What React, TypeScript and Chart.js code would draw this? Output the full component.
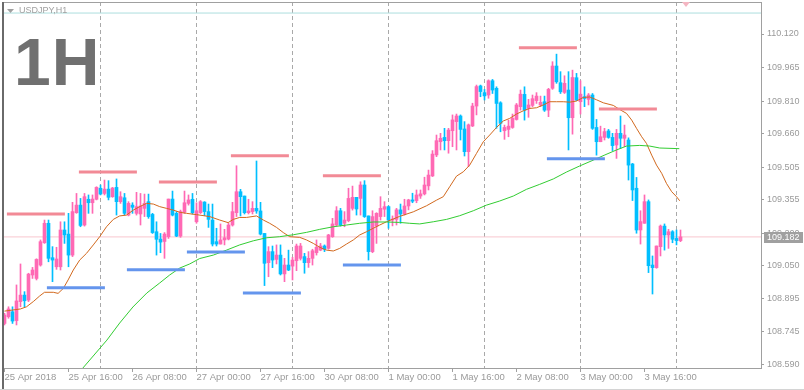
import React, { useEffect, useRef } from 'react';
import { Chart, registerables } from 'chart.js';
Chart.register(...registerables);

// ---- Data (USDJPY, H1) ----
const opens = [108.782,108.813,108.836,108.795,108.883,108.913,108.890,109.006,108.990,109.052,
109.155,109.245,109.086,109.044,109.044,109.214,109.195,109.098,109.294,109.329,
109.237,109.356,109.340,109.356,109.407,109.383,109.403,109.368,109.411,109.345,
109.363,109.283,109.329,109.291,109.288,109.314,109.345,109.286,109.206,109.172,
109.161,109.183,109.357,109.291,109.186,109.296,109.337,109.356,109.252,109.294,
109.343,109.299,109.260,109.160,109.149,109.168,109.172,109.237,109.294,109.391,
109.371,109.294,109.299,109.314,109.302,109.198,109.063,109.114,109.078,109.098,
109.011,109.052,109.047,109.072,109.083,109.091,109.063,109.083,109.109,109.121,
109.140,109.129,109.183,109.237,109.303,109.245,109.257,109.314,109.365,109.360,
109.422,109.279,109.114,109.232,109.276,109.310,109.322,109.260,109.263,109.307,
109.288,109.325,109.353,109.350,109.371,109.381,109.418,109.464,109.561,109.622,
109.642,109.627,109.673,109.715,109.741,109.681,109.576,109.695,109.787,109.880,
109.849,109.838,109.904,109.869,109.802,109.673,109.679,109.688,109.725,109.784,
109.841,109.776,109.790,109.812,109.792,109.807,109.768,109.869,109.972,109.895,
109.850,109.861,109.733,109.918,109.807,109.830,109.818,109.838,109.688,109.622,
109.642,109.672,109.642,109.607,109.661,109.638,109.630,109.519,109.407,109.214,
109.245,109.345,109.052,109.040,109.137,109.232,109.191,109.206,109.175,109.165];

const highs = [108.829,108.859,108.859,108.960,109.057,108.929,109.014,109.041,109.081,109.168,
109.260,109.260,109.137,109.134,109.252,109.252,109.291,109.342,109.383,109.360,
109.383,109.376,109.376,109.414,109.422,109.445,109.442,109.411,109.450,109.391,
109.383,109.345,109.340,109.388,109.383,109.380,109.380,109.291,109.252,109.198,
109.202,109.357,109.394,109.299,109.306,109.394,109.376,109.383,109.340,109.350,
109.345,109.334,109.334,109.222,109.242,109.217,109.245,109.342,109.511,109.402,
109.371,109.356,109.345,109.533,109.342,109.198,109.137,109.140,109.145,109.145,
109.083,109.121,109.088,109.149,109.152,109.106,109.114,109.125,109.168,109.152,
109.145,109.194,109.268,109.322,109.314,109.299,109.407,109.417,109.365,109.437,
109.442,109.279,109.303,109.294,109.368,109.345,109.325,109.279,109.314,109.334,
109.356,109.356,109.384,109.399,109.399,109.458,109.491,109.581,109.653,109.661,
109.684,109.684,109.746,109.750,109.746,109.715,109.704,109.800,109.884,109.884,
109.864,109.908,109.910,109.876,109.807,109.699,109.722,109.750,109.799,109.861,
109.876,109.818,109.838,109.849,109.833,109.833,109.869,109.992,110.027,109.946,
109.927,109.946,109.953,109.938,109.904,109.876,109.845,109.845,109.725,109.694,
109.684,109.679,109.661,109.679,109.741,109.699,109.640,109.522,109.457,109.303,
109.376,109.353,109.094,109.140,109.237,109.242,109.217,109.211,109.214,109.214];

const lows = [108.775,108.806,108.782,108.775,108.859,108.859,108.883,108.990,108.983,109.047,
109.152,109.067,108.975,109.032,109.029,109.152,109.044,109.091,109.291,109.229,
109.232,109.291,109.291,109.353,109.376,109.376,109.353,109.365,109.283,109.337,
109.283,109.279,109.291,109.283,109.237,109.276,109.268,109.198,109.098,109.109,
109.083,109.175,109.279,109.183,109.180,109.291,109.329,109.288,109.245,109.290,
109.280,109.226,109.140,109.140,109.149,109.145,109.168,109.232,109.276,109.279,
109.288,109.288,109.288,109.291,109.191,108.957,108.998,109.040,109.057,109.006,
108.975,109.026,108.983,109.026,109.075,109.014,109.041,109.052,109.098,109.118,
109.114,109.125,109.180,109.232,109.232,109.229,109.252,109.306,109.283,109.283,
109.272,109.075,109.109,109.152,109.260,109.276,109.222,109.233,109.237,109.245,
109.283,109.307,109.340,109.340,109.360,109.376,109.399,109.461,109.553,109.584,
109.584,109.569,109.599,109.584,109.630,109.556,109.507,109.692,109.746,109.830,
109.815,109.823,109.845,109.684,109.668,109.633,109.645,109.684,109.722,109.768,
109.722,109.735,109.784,109.799,109.784,109.762,109.738,109.864,109.892,109.845,
109.845,109.584,109.657,109.812,109.750,109.784,109.792,109.679,109.560,109.622,
109.630,109.638,109.581,109.545,109.591,109.599,109.445,109.350,109.199,109.149,
109.245,109.017,108.918,109.037,109.094,109.121,109.129,109.155,109.145,109.160];

const closes = [108.821,108.849,108.793,108.886,108.913,108.887,109.010,109.029,109.078,109.160,
109.245,109.083,109.075,109.080,109.214,109.191,109.098,109.299,109.329,109.235,
109.368,109.340,109.357,109.411,109.380,109.403,109.365,109.408,109.345,109.368,
109.291,109.337,109.319,109.322,109.325,109.337,109.276,109.202,109.171,109.158,
109.195,109.357,109.283,109.186,109.299,109.340,109.353,109.294,109.303,109.345,
109.299,109.263,109.149,109.149,109.168,109.178,109.237,109.299,109.391,109.368,
109.294,109.302,109.314,109.302,109.195,109.060,109.114,109.075,109.098,109.011,
109.052,109.029,109.075,109.140,109.140,109.063,109.083,109.118,109.134,109.140,
109.125,109.191,109.242,109.303,109.237,109.260,109.360,109.365,109.311,109.422,
109.276,109.114,109.276,109.291,109.314,109.322,109.260,109.263,109.307,109.288,
109.325,109.353,109.347,109.376,109.381,109.422,109.468,109.565,109.627,109.638,
109.627,109.676,109.723,109.741,109.679,109.576,109.700,109.787,109.877,109.854,
109.834,109.904,109.861,109.799,109.707,109.688,109.694,109.730,109.792,109.842,
109.768,109.792,109.821,109.833,109.804,109.768,109.864,109.972,109.899,109.853,
109.892,109.733,109.919,109.815,109.842,109.822,109.838,109.684,109.622,109.645,
109.669,109.642,109.604,109.661,109.638,109.653,109.514,109.399,109.214,109.253,
109.345,109.049,109.040,109.140,109.232,109.191,109.206,109.171,109.165,109.182];

// Fast moving average (orange), sampled at bar positions
const fastMaBar = [0,4,5.5,7.2,8.8,10,12.2,13.4,14.7,15.9,17.2,18.8,20.5,22.2,23.8,25.5,27.2,28.8,30.5,32.2,33.8,35.5,37.2,38.8,40.5,42.2,43.8,45.5,48,51.3,53.8,55.9,57.2,58.8,60.5,63,64.7,66.3,68,69.7,71.3,73.8,75.5,77.2,78.8,80.5,82.2,83.8,85.5,87.2,88.8,90.5,92.2,93.8,95.5,97.2,98.8,102.2,105.5,108,109.7,111.3,113,114.7,116.3,118,119.7,121.3,123,124.7,126.3,128,129.7,131.3,133,134.7,136.3,138,139.7,141.3,143,144.7,146.3,148,149.7,152.2,153.8,155.5,156.8,158,159.3,160.5,161.8,163,164.3,165.5,166.8,168,168.8];
const fastMaValue = [108.839,108.849,108.859,108.883,108.909,108.926,108.926,108.921,108.944,108.983,109.029,109.075,109.106,109.145,109.183,109.229,109.263,109.279,109.283,109.306,109.322,109.337,109.334,109.322,109.314,109.306,109.296,109.291,109.285,109.276,109.260,109.248,109.263,109.272,109.272,109.279,109.260,109.245,109.226,109.202,109.183,109.180,109.168,109.152,109.134,109.121,109.117,109.129,109.149,109.168,109.191,109.206,109.222,109.237,109.252,109.265,109.277,109.298,109.326,109.352,109.368,109.414,109.463,109.483,109.514,109.568,109.622,109.653,109.688,109.718,109.730,109.750,109.765,109.776,109.779,109.792,109.807,109.807,109.807,109.805,109.810,109.827,109.829,109.816,109.802,109.790,109.771,109.753,109.722,109.684,109.645,109.614,109.560,109.514,109.476,109.429,109.391,109.368,109.349];

// Slow moving average (green)
const slowMaBar = [19.6,25.6,28.8,32.1,35.6,38.8,41.3,43.8,46.3,48.8,52.2,55.5,58.8,62.2,65.5,68.8,72.2,75.5,78.8,82.2,85.5,88.8,92.2,95.5,98.8,101.3,103.8,107.2,110.5,113.8,117.2,120.5,123.8,127.2,130.5,133.8,137.2,140.5,143.8,147.2,150.1,153,155.5,158.8,161.3,163.8,168.7];
const slowMaValue = [108.576,108.705,108.784,108.858,108.923,108.969,109.006,109.038,109.057,109.082,109.098,109.121,109.145,109.164,109.178,109.183,109.192,109.203,109.217,109.229,109.237,109.245,109.251,109.251,109.249,109.245,109.242,109.252,109.263,109.280,109.303,109.329,109.348,109.371,109.402,109.425,109.450,109.482,109.510,109.537,109.561,109.584,109.602,109.605,109.602,109.593,109.590];

// Resistance / support segments
const resistanceFrom = [0.6,18.6,38.6,56.6,79.6,128.6,148.6];
const resistanceTo = [15.1,33.1,53.1,71.1,94.1,143.1,163.1];
const resistancePrice = [109.288,109.482,109.436,109.557,109.465,110.057,109.773];
const supportFrom = [10.6,30.6,45.6,59.6,84.6,135.6];
const supportTo = [25.1,45.1,60.1,74.1,99.1,150.1];
const supportPrice = [108.947,109.030,109.112,108.923,109.052,109.543];

const topLinePrice = 110.217;
const lastPrice = 109.182;

const xTickIndex = [0,16,32,48,64,80,96,112,128,144,160];
const xTickLabels = ['25 Apr 2018','25 Apr 16:00','26 Apr 08:00','27 Apr 00:00','27 Apr 16:00','30 Apr 08:00','1 May 00:00','1 May 16:00','2 May 08:00','3 May 00:00','3 May 16:00'];
const daySeparatorIndex = [24,48,72,96,120,144,168];
const yTickValues = [110.12,109.965,109.81,109.66,109.505,109.355,109.2,109.05,108.895,108.745,108.59];

const X_MIN = -0.375;
const X_MAX = 189.125;
const Y_MIN = 108.576;
const Y_MAX = 110.268;

const BULL = '#ff69b4';
const BEAR = '#00bfff';
const FONT = '"Liberation Sans", Arial, sans-serif';

const decor = {
  id: 'decor',
  beforeDraw(chart: any) {
    const { ctx, width, height } = chart;
    ctx.save();
    ctx.fillStyle = '#ffffff';
    ctx.fillRect(0, 0, width, height);
    ctx.restore();
  },
  beforeDatasetsDraw(chart: any) {
    const { ctx, chartArea } = chart;
    const xs = chart.scales.x;
    ctx.save();
    ctx.strokeStyle = '#a9a9a9';
    ctx.lineWidth = 1;
    ctx.setLineDash([4, 3]);
    for (const d of daySeparatorIndex) {
      const px = Math.floor(xs.getPixelForValue(d) - 0.5) + 0.5;
      ctx.beginPath();
      ctx.moveTo(px, chartArea.top);
      ctx.lineTo(px, chartArea.bottom);
      ctx.stroke();
    }
    ctx.restore();
  },
  afterDraw(chart: any) {
    const { ctx, chartArea } = chart;
    const ys = chart.scales.y;
    ctx.save();
    // frame
    ctx.fillStyle = '#a0a0a0';
    ctx.fillRect(3, 2, chartArea.right - 2, 1);
    ctx.fillStyle = '#6a6a6a';
    ctx.fillRect(2, 2, 2, 388);
    ctx.fillStyle = '#d4d4d4';
    ctx.fillRect(0, 389, 804, 1);
    // symbol caption
    ctx.fillStyle = '#a0a0a0';
    ctx.beginPath();
    ctx.moveTo(7, 9); ctx.lineTo(14, 9); ctx.lineTo(10.5, 13); ctx.closePath();
    ctx.fill();
    ctx.font = '9px ' + FONT;
    ctx.textBaseline = 'middle';
    ctx.textAlign = 'left';
    ctx.fillText('USDJPY,H1', 19, 11);
    // big timeframe text
    ctx.fillStyle = '#707070';
    ctx.font = 'bold 66px ' + FONT;
    ctx.textBaseline = 'alphabetic';
    (ctx as any).letterSpacing = '1px';
    ctx.fillText('1H', 14, 85);
    (ctx as any).letterSpacing = '0px';
    // shift marker
    ctx.fillStyle = '#f4b6c2';
    ctx.beginPath();
    ctx.moveTo(682, 2); ctx.lineTo(690, 2); ctx.lineTo(686, 7); ctx.closePath();
    ctx.fill();
    // last price label
    const y = Math.round(ys.getPixelForValue(lastPrice));
    ctx.fillStyle = '#a0a0a0';
    ctx.fillRect(764, y - 5, 39, 11);
    ctx.fillStyle = '#ffffff';
    ctx.font = '9px ' + FONT;
    ctx.textBaseline = 'middle';
    ctx.fillText(lastPrice.toFixed(3), 767, y + 0.5);
    ctx.restore();
  },
};

export default function App() {
  const ref = useRef<HTMLCanvasElement>(null);
  useEffect(() => {
    const canvas = ref.current;
    if (!canvas) return;
    Chart.defaults.font.family = FONT;
    Chart.defaults.font.size = 9;
    const colors = opens.map((o, i) => (closes[i] >= o ? BULL : BEAR));
    const wickData = opens.map((_, i) => ({ x: i, y: [lows[i], highs[i]] }));
    const bodyData = opens.map((o, i) => ({ x: i, y: [o, closes[i]] }));
    const lineBase = { type: 'line', pointRadius: 0, tension: 0, fill: false, borderWidth: 1 };
    const datasets: any[] = [
      { ...lineBase, data: [{ x: X_MIN, y: topLinePrice }, { x: X_MAX, y: topLinePrice }], borderColor: '#acdede', order: 10 },
      { ...lineBase, data: [{ x: X_MIN, y: lastPrice }, { x: X_MAX, y: lastPrice }], borderColor: '#f8c6cf', order: 10 },
      { type: 'bar', data: wickData, backgroundColor: colors, barThickness: 1, grouped: false, borderWidth: 0, order: 6 },
      { type: 'bar', data: bodyData, backgroundColor: colors, barThickness: 3, grouped: false, borderWidth: 0, minBarLength: 1, order: 5 },
      { ...lineBase, data: slowMaBar.map((x, k) => ({ x, y: slowMaValue[k] })), borderColor: '#32cd32', order: 2 },
      { ...lineBase, data: fastMaBar.map((x, k) => ({ x, y: fastMaValue[k] })), borderColor: '#d2691e', order: 2 },
    ];
    resistancePrice.forEach((p, k) => {
      datasets.push({ ...lineBase, borderWidth: 3, borderCapStyle: 'butt', borderColor: '#f28a96', order: 1,
        data: [{ x: resistanceFrom[k], y: p }, { x: resistanceTo[k], y: p }] });
    });
    supportPrice.forEach((p, k) => {
      datasets.push({ ...lineBase, borderWidth: 3, borderCapStyle: 'butt', borderColor: '#6495ed', order: 1,
        data: [{ x: supportFrom[k], y: p }, { x: supportTo[k], y: p }] });
    });

    const chart = new Chart(canvas, {
      type: 'bar',
      data: { datasets },
      options: {
        responsive: false,
        animation: false,
        devicePixelRatio: 1,
        layout: { padding: { left: 3, top: 2, right: 0, bottom: 0 } },
        plugins: { legend: { display: false }, tooltip: { enabled: false } },
        scales: {
          x: {
            type: 'linear', position: 'bottom', min: X_MIN, max: X_MAX, bounds: 'data', offset: false,
            grid: { display: true, offset: false, drawOnChartArea: false, drawTicks: true, tickLength: 4, color: '#a0a0a0' },
            border: { display: true, color: '#a0a0a0', width: 1 },
            ticks: {
              autoSkip: false, maxRotation: 0, minRotation: 0, align: 'start', padding: 0,
              color: '#9a9a9a', font: { family: FONT, size: 9.5 },
              callback: (_v: any, idx: number) => xTickLabels[idx],
            },
            afterBuildTicks: (s: any) => { s.ticks = xTickIndex.map((v) => ({ value: v })); },
            afterFit: (s: any) => { s.height = 22; s.paddingLeft = 0; s.paddingRight = 0; },
          },
          y: {
            type: 'linear', position: 'right', min: Y_MIN, max: Y_MAX, bounds: 'data',
            grid: { display: true, drawOnChartArea: false, drawTicks: true, tickLength: 3, color: '#a0a0a0' },
            border: { display: true, color: '#a0a0a0', width: 1 },
            ticks: {
              autoSkip: false, padding: 3, color: '#9a9a9a', font: { family: FONT, size: 9 },
              callback: (v: any) => Number(v).toFixed(3),
            },
            afterBuildTicks: (s: any) => { s.ticks = yTickValues.map((v) => ({ value: v })); },
            afterFit: (s: any) => { s.width = 43; s.paddingTop = 0; s.paddingBottom = 0; },
          },
        },
      } as any,
      plugins: [decor],
    });
    return () => chart.destroy();
  }, []);
  return (
    <div style={{ position: 'absolute', left: 0, top: 0, width: 804, height: 390 }}>
      <canvas ref={ref} width={804} height={390} style={{ display: 'block', width: 804, height: 390 }} />
    </div>
  );
}
